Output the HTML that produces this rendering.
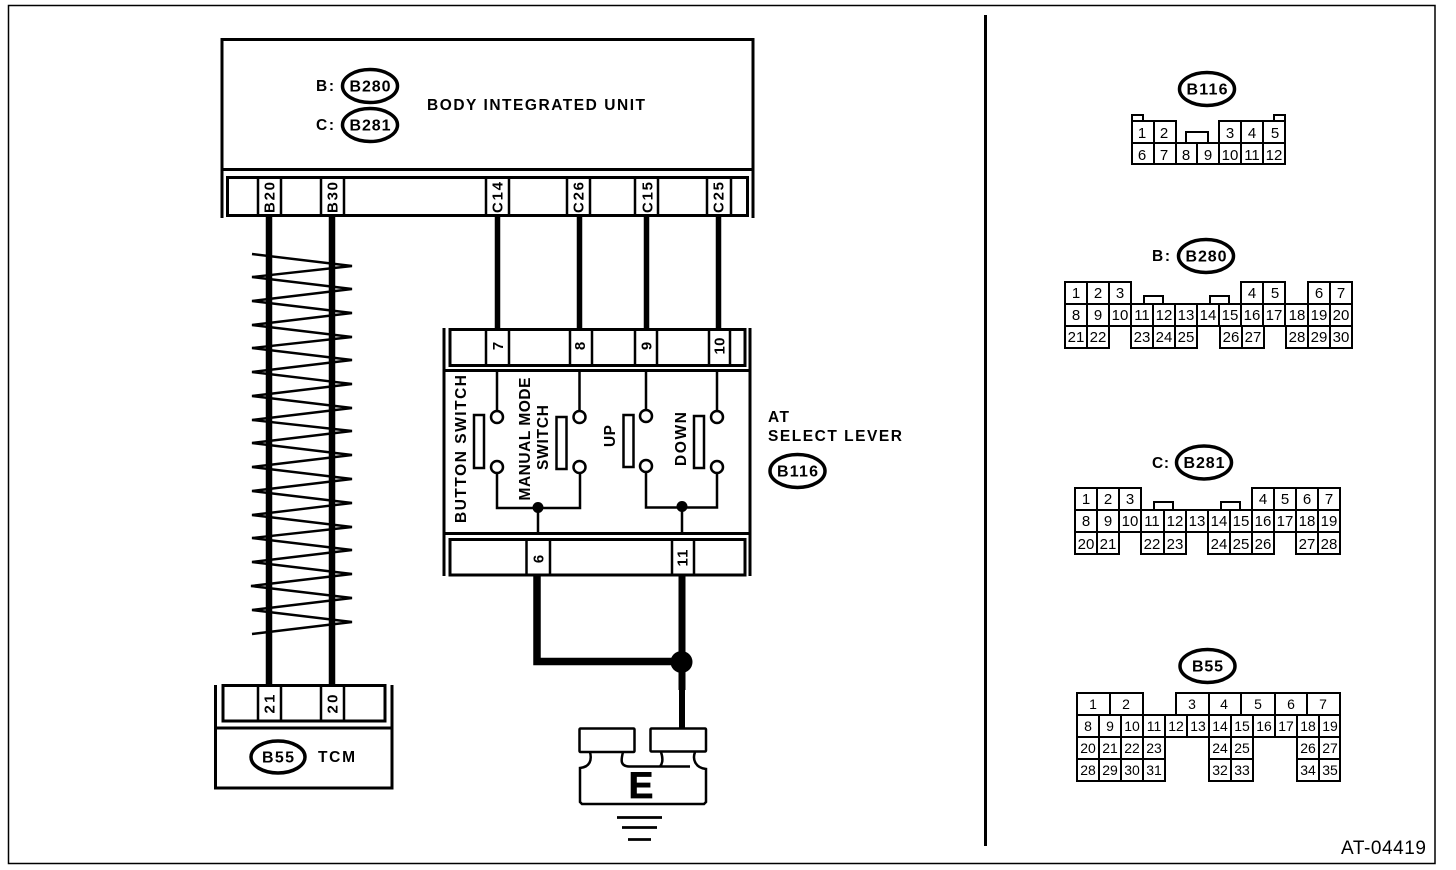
<!DOCTYPE html>
<html><head><meta charset="utf-8"><style>
html,body{margin:0;padding:0;background:#fff;width:1456px;height:870px;overflow:hidden}
svg{display:block}
text{font-family:"Liberation Sans",sans-serif;fill:#000}
.b{font-weight:bold;font-size:15.5px}
.r{font-size:15px;font-weight:bold}
.c text{font-size:15px;text-anchor:middle}
.d text{font-size:14px;text-anchor:middle}
.g rect,.g path{fill:#fff;stroke:#000;stroke-width:2}
.g{shape-rendering:crispEdges}
.e{fill:#fff;stroke:#000;stroke-width:3.5}
.o{font-weight:bold;font-size:16px;text-anchor:middle}
.w{fill:none;stroke:#000}
</style></head><body>
<svg width="1456" height="870" viewBox="0 0 1456 870" xmlns="http://www.w3.org/2000/svg">
<rect x="8.5" y="5.5" width="1426.5" height="858" fill="none" stroke="#000" stroke-width="1.5"/>
<rect x="984" y="15" width="3" height="831" fill="#000"/>

<!-- Body integrated unit -->
<path class="w" stroke-width="3" d="M222 218V39.5H753V218M222 169.5H753"/>
<rect x="227.5" y="177.5" width="520" height="38" fill="#fff" stroke="#000" stroke-width="3"/>
<path class="w" stroke-width="2.5" d="M258 177V216M281 177V216M321 177V216M344 177V216M486 177V216M509 177V216M567 177V216M590 177V216M635 177V216M658 177V216M707 177V216M731 177V216"/>
<ellipse class="e" cx="370" cy="86" rx="27.5" ry="16.5"/>
<ellipse class="e" cx="370" cy="125" rx="27.5" ry="16.5"/>
<text class="o" x="370" y="91.500" textLength="41">B280</text>
<text class="o" x="370" y="130.500" textLength="41">B281</text>
<text class="b" x="316" y="91" textLength="18">B:</text>
<text class="b" x="316" y="130" textLength="18">C:</text>
<text class="b" x="427" y="110" textLength="218">BODY INTEGRATED UNIT</text>
<g class="r" text-anchor="middle">
<text transform="translate(274.500 197.500) rotate(-90)" textLength="31">B20</text>
<text transform="translate(337.500 197.500) rotate(-90)" textLength="31">B30</text>
<text transform="translate(502.500 197.500) rotate(-90)" textLength="31">C14</text>
<text transform="translate(583.500 197.500) rotate(-90)" textLength="31">C26</text>
<text transform="translate(652.500 197.500) rotate(-90)" textLength="31">C15</text>
<text transform="translate(723.500 197.500) rotate(-90)" textLength="31">C25</text>
</g>

<!-- Wires -->
<path class="w" stroke-width="6.500" d="M269 216V685M332 216V685"/>
<path class="w" stroke-width="5.500" d="M497.500 216V329M579.500 216V329M646.500 216V329M718.500 216V329"/>
<polyline class="w" stroke-width="2.400" points="252,254 352,266 252,277 352,289 252,301 352,313 252,325 352,337 252,348 352,360 252,372 352,384 252,396 352,408 252,420 352,431 252,443 352,455 252,467 352,479 252,491 352,503 252,515 352,527 252,538 352,550 252,562 352,574 251,586 352,598 252,610 352,622 252,634"/>

<!-- Switch box -->
<path class="w" stroke-width="3" d="M444 328V576M750 328V576M444 370.500H750M444 533.500H750"/>
<rect x="450" y="329.500" width="295" height="36" fill="#fff" stroke="#000" stroke-width="3"/>
<rect x="450" y="539.500" width="295" height="35.500" fill="#fff" stroke="#000" stroke-width="3"/>
<path class="w" stroke-width="2.500" d="M486 329V365M509 329V365M570 329V365M592 329V365M635 329V365M657 329V365M709 329V365M730 329V365M526.500 539V575M550 539V575M672 539V575M694 539V575"/>
<g class="r" text-anchor="middle">
<text transform="translate(503 346) rotate(-90)">7</text>
<text transform="translate(585 346) rotate(-90)">8</text>
<text transform="translate(651.500 346) rotate(-90)">9</text>
<text transform="translate(724.500 346) rotate(-90)" textLength="17">10</text>
<text transform="translate(543.500 559) rotate(-90)">6</text>
<text transform="translate(687.500 558) rotate(-90)" textLength="17">11</text>
</g>
<path class="w" stroke-width="2.500" d="M497 370V411M579.500 370V411M646 370V410M717 370V411M497 473V508H580V473M646 472V507.500H717V473M538 508V533M682 507V533"/>
<g fill="#fff" stroke="#000" stroke-width="2.500">
<circle cx="497" cy="417" r="6"/><circle cx="497" cy="467" r="6"/>
<circle cx="579.500" cy="417" r="6"/><circle cx="579.500" cy="467" r="6"/>
<circle cx="646" cy="416" r="6"/><circle cx="646" cy="466" r="6"/>
<circle cx="717" cy="417" r="6"/><circle cx="717" cy="467" r="6"/>
<rect x="474" y="415" width="10" height="53"/>
<rect x="556.500" y="417" width="10" height="52"/>
<rect x="623.500" y="415" width="10" height="52"/>
<rect x="694" y="416" width="10" height="52"/>
</g>
<circle cx="538" cy="507.500" r="5.500"/>
<circle cx="682" cy="506.500" r="5.500"/>
<g class="b" text-anchor="middle">
<text transform="translate(466 449) rotate(-90)" textLength="148">BUTTON SWITCH</text>
<text transform="translate(530 439) rotate(-90)" textLength="123">MANUAL MODE</text>
<text transform="translate(548 437.500) rotate(-90)" textLength="65">SWITCH</text>
<text transform="translate(615 436) rotate(-90)" textLength="22">UP</text>
<text transform="translate(686 439) rotate(-90)" textLength="54">DOWN</text>
</g>
<text class="b" x="768" y="422" textLength="21">AT</text>
<text class="b" x="768" y="441" textLength="134">SELECT LEVER</text>
<ellipse class="e" cx="797.500" cy="471" rx="27.500" ry="16.500"/>
<text class="o" x="797.500" y="476.500" textLength="41">B116</text>

<!-- Thick ground wires -->
<path class="w" stroke-width="7.500" d="M537 575V661.500H682"/>
<path class="w" stroke-width="7" d="M682 575V690"/>
<path class="w" stroke-width="6" d="M682 690V728"/>
<circle cx="681.500" cy="662" r="11"/>

<!-- Ground symbol -->
<g fill="none" stroke="#000" stroke-width="2.500">
<path d="M590 752C592 760 590 767 580 768V802L582 804H704L706 802V769C696 768 692 760 695 752"/>
<path d="M623 752C621 760 620 766 629 766.500H690M661 752C663 758 663 763 660 766.500"/>
<rect x="579.500" y="728.500" width="55" height="23.500" rx="1" fill="#fff"/>
<rect x="650.500" y="728.500" width="55.500" height="23" rx="1" fill="#fff"/>
</g>
<text x="641" y="798" font-size="37" font-weight="bold" text-anchor="middle" stroke="#000" stroke-width="0.800">E</text>
<path class="w" stroke-width="2.800" d="M617 817.500H662M622 827.500H657M628 839.500H651"/>

<!-- TCM -->
<path class="w" stroke-width="3" d="M215.500 685V788H392V685M215.500 728H392"/>
<rect x="223" y="685.500" width="162" height="35.500" fill="#fff" stroke="#000" stroke-width="3"/>
<path class="w" stroke-width="2.500" d="M258 685V721M281 685V721M321 685V721M344 685V721"/>
<g class="r" text-anchor="middle">
<text transform="translate(274.500 704) rotate(-90)" textLength="19">21</text>
<text transform="translate(337.500 704) rotate(-90)" textLength="19">20</text>
</g>
<ellipse class="e" cx="278" cy="757" rx="27" ry="16"/>
<text class="o" x="278" y="762.500" textLength="32">B55</text>
<text class="b" x="318" y="762" textLength="37">TCM</text>

<!-- B116 connector -->
<ellipse class="e" cx="1207" cy="89" rx="27.500" ry="16.500"/>
<text class="o" x="1207" y="94.500" textLength="41">B116</text>
<g class="g">
<rect x="1132" y="115" width="11" height="6"/><rect x="1274" y="115" width="11" height="6"/>
<rect x="1186" y="132" width="22" height="11"/>
<rect x="1132" y="121" width="22" height="22"/><rect x="1154" y="121" width="22" height="22"/>
<rect x="1219" y="121" width="22" height="22"/><rect x="1241" y="121" width="22" height="22"/><rect x="1263" y="121" width="22" height="22"/>
<path d="M1132 143H1285V164H1132ZM1154 143V164M1176 143V164M1197 143V164M1219 143V164M1241 143V164M1263 143V164" style="fill:none"/>
</g>
<g class="c">
<text x="1142" y="138">1</text><text x="1164" y="138">2</text><text x="1230" y="138">3</text><text x="1252" y="138">4</text><text x="1275" y="138">5</text>
<text x="1142" y="160">6</text><text x="1164" y="160">7</text><text x="1186" y="160">8</text><text x="1208" y="160">9</text><text x="1230" y="160">10</text><text x="1252" y="160">11</text><text x="1274" y="160">12</text>
</g>

<!-- B280 connector -->
<ellipse class="e" cx="1206" cy="256" rx="27.500" ry="16.500"/>
<text class="o" x="1206" y="261.500" textLength="41">B280</text>
<text class="b" x="1152" y="261" textLength="18">B:</text>
<g class="g">
<rect x="1144" y="296" width="19" height="8"/><rect x="1210" y="296" width="19" height="8"/>
<path d="M1065 282H1131V304H1065ZM1087 282V304M1109 282V304M1241 282H1285V304H1241ZM1263 282V304M1308 282H1352V304H1308ZM1330 282V304"/>
<path d="M1065 304H1352V326H1065ZM1087 304V326M1109 304V326M1131 304V326M1153 304V326M1175 304V326M1197 304V326M1219 304V326M1241 304V326M1263 304V326M1285 304V326M1308 304V326M1330 304V326"/>
<path d="M1065 326H1109V348H1065ZM1087 326V348M1131 326H1197V348H1131ZM1153 326V348M1175 326V348M1220 326H1264V348H1220ZM1242 326V348M1286 326H1352V348H1286ZM1308 326V348M1330 326V348"/>
</g>
<g class="c">
<text x="1076" y="298">1</text><text x="1098" y="298">2</text><text x="1120" y="298">3</text><text x="1252" y="298">4</text><text x="1275" y="298">5</text><text x="1319" y="298">6</text><text x="1341" y="298">7</text>
<text x="1076" y="320">8</text><text x="1098" y="320">9</text><text x="1120" y="320">10</text><text x="1142" y="320">11</text><text x="1164" y="320">12</text><text x="1186" y="320">13</text><text x="1208" y="320">14</text><text x="1230" y="320">15</text><text x="1252" y="320">16</text><text x="1274" y="320">17</text><text x="1297" y="320">18</text><text x="1319" y="320">19</text><text x="1341" y="320">20</text>
<text x="1076" y="342">21</text><text x="1098" y="342">22</text><text x="1142" y="342">23</text><text x="1164" y="342">24</text><text x="1186" y="342">25</text><text x="1231" y="342">26</text><text x="1253" y="342">27</text><text x="1297" y="342">28</text><text x="1319" y="342">29</text><text x="1341" y="342">30</text>
</g>

<!-- B281 connector -->
<ellipse class="e" cx="1204" cy="462.500" rx="27.500" ry="16.500"/>
<text class="o" x="1204" y="468" textLength="41">B281</text>
<text class="b" x="1152" y="468" textLength="17">C:</text>
<g class="g">
<rect x="1154" y="502" width="19" height="8"/><rect x="1221" y="502" width="19" height="8"/>
<path d="M1075 488H1141V510H1075ZM1097 488V510M1119 488V510M1252 488H1340V510H1252ZM1274 488V510M1296 488V510M1318 488V510"/>
<path d="M1075 510H1340V532H1075ZM1097 510V532M1119 510V532M1141 510V532M1164 510V532M1186 510V532M1208 510V532M1230 510V532M1252 510V532M1274 510V532M1296 510V532M1318 510V532"/>
<path d="M1075 532H1119V554H1075ZM1097 532V554M1141 532H1186V554H1141ZM1164 532V554M1208 532H1274V554H1208ZM1230 532V554M1252 532V554M1296 532H1340V554H1296ZM1318 532V554"/>
</g>
<g class="c">
<text x="1086" y="504">1</text><text x="1108" y="504">2</text><text x="1130" y="504">3</text><text x="1263" y="504">4</text><text x="1285" y="504">5</text><text x="1307" y="504">6</text><text x="1329" y="504">7</text>
<text x="1086" y="526">8</text><text x="1108" y="526">9</text><text x="1130" y="526">10</text><text x="1152" y="526">11</text><text x="1175" y="526">12</text><text x="1197" y="526">13</text><text x="1219" y="526">14</text><text x="1241" y="526">15</text><text x="1263" y="526">16</text><text x="1285" y="526">17</text><text x="1307" y="526">18</text><text x="1329" y="526">19</text>
<text x="1086" y="549">20</text><text x="1108" y="549">21</text><text x="1152" y="549">22</text><text x="1175" y="549">23</text><text x="1219" y="549">24</text><text x="1241" y="549">25</text><text x="1263" y="549">26</text><text x="1307" y="549">27</text><text x="1329" y="549">28</text>
</g>

<!-- B55 connector -->
<ellipse class="e" cx="1207.500" cy="666" rx="27.500" ry="16.500"/>
<text class="o" x="1207.500" y="671.500" textLength="31">B55</text>
<g class="g">
<path d="M1077 693H1143V715H1077ZM1110 693V715M1176 693H1340V715H1176ZM1209 693V715M1241 693V715M1275 693V715M1307 693V715"/>
<path d="M1077 715H1340V737H1077ZM1099 715V737M1121 715V737M1143 715V737M1165 715V737M1187 715V737M1209 715V737M1231 715V737M1253 715V737M1275 715V737M1297 715V737M1319 715V737"/>
<path d="M1077 737H1165V781H1077ZM1077 759H1165M1099 737V781M1121 737V781M1143 737V781M1209 737H1253V781H1209ZM1209 759H1253M1231 737V781M1297 737H1340V781H1297ZM1297 759H1340M1319 737V781"/>
</g>
<g class="d">
<text x="1093" y="709">1</text><text x="1126" y="709">2</text><text x="1192" y="709">3</text><text x="1224" y="709">4</text><text x="1258" y="709">5</text><text x="1291" y="709">6</text><text x="1323" y="709">7</text>
<text x="1088" y="731">8</text><text x="1110" y="731">9</text><text x="1132" y="731">10</text><text x="1154" y="731">11</text><text x="1176" y="731">12</text><text x="1198" y="731">13</text><text x="1220" y="731">14</text><text x="1242" y="731">15</text><text x="1264" y="731">16</text><text x="1286" y="731">17</text><text x="1308" y="731">18</text><text x="1330" y="731">19</text>
<text x="1088" y="753">20</text><text x="1110" y="753">21</text><text x="1132" y="753">22</text><text x="1154" y="753">23</text><text x="1220" y="753">24</text><text x="1242" y="753">25</text><text x="1308" y="753">26</text><text x="1330" y="753">27</text>
<text x="1088" y="775">28</text><text x="1110" y="775">29</text><text x="1132" y="775">30</text><text x="1154" y="775">31</text><text x="1220" y="775">32</text><text x="1242" y="775">33</text><text x="1308" y="775">34</text><text x="1330" y="775">35</text>
</g>

<text x="1341" y="854" font-size="19" textLength="85">AT-04419</text>
</svg>
</body></html>
